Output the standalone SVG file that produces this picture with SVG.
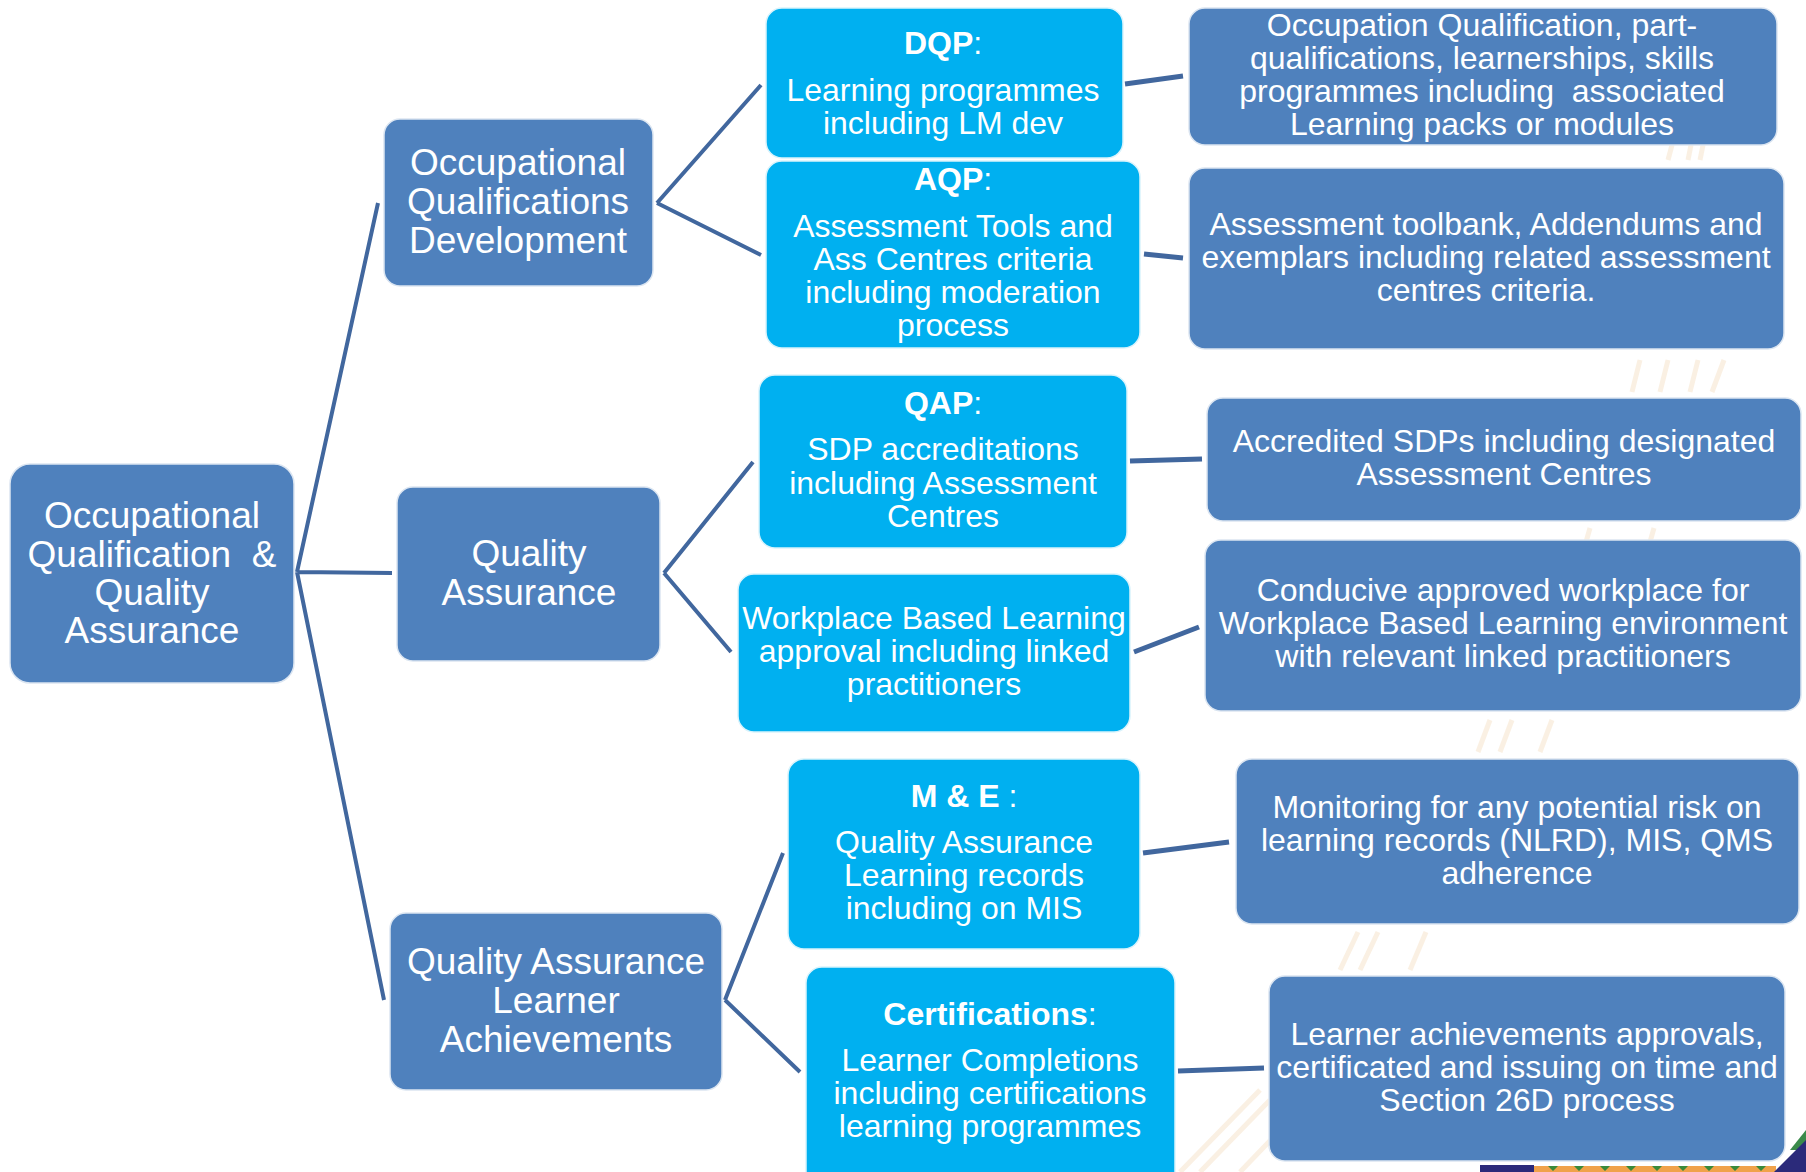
<svg xmlns="http://www.w3.org/2000/svg" width="1806" height="1172" viewBox="0 0 1806 1172">
<defs>
<style>
.bg{fill:#ffffff}
.deco{stroke:#f3d9b8;stroke-width:5;fill:none;opacity:0.4}
.dk{fill:#4F81BD;stroke:#dbe5f1;stroke-width:1.5}
.cy{fill:#00B0F0;stroke:#d9f3fc;stroke-width:1.5}
.conn{stroke:#41679E;fill:none;stroke-linecap:butt}
.c1{stroke-width:4}
.c2{stroke-width:5}
text{font-family:"Liberation Sans",Arial,sans-serif;fill:#ffffff;text-anchor:middle;white-space:pre}
.t37{font-size:37px}
.t32{font-size:32px}
.b{font-weight:bold}
</style>
</defs>
<rect class="bg" x="0" y="0" width="1806" height="1172"/>
<g id="background">
<path class="deco" d="M1668 160 L1676 130 M1688 160 L1694 130 M1700 160 L1706 130"/>
<path class="deco" d="M1632 392 L1640 360 M1660 392 L1668 360 M1690 392 L1698 360 M1712 392 L1724 360"/>
<path class="deco" d="M1586 542 L1590 528 M1650 542 L1654 528"/>
<path class="deco" d="M1478 752 L1490 720 M1500 752 L1512 720 M1540 752 L1552 720"/>
<path class="deco" d="M1340 970 L1358 932 M1360 970 L1378 932 M1410 970 L1426 932"/>
<path class="deco" d="M1180 1172 L1260 1090 M1200 1172 L1270 1100 M1240 1172 L1290 1120"/>
<rect x="1480" y="1165" width="54" height="7" fill="#2b2a7a"/>
<rect x="1534" y="1166" width="242" height="6" fill="#f0a24a"/>
<path d="M1548 1166 l5 5 l5 -5 z M1574 1166 l5 5 l5 -5 z M1600 1166 l5 5 l5 -5 z M1626 1166 l5 5 l5 -5 z M1652 1166 l5 5 l5 -5 z M1678 1166 l5 5 l5 -5 z M1704 1166 l5 5 l5 -5 z M1730 1166 l5 5 l5 -5 z M1756 1166 l5 5 l5 -5 z" fill="#3a8a3a"/>
<polygon points="1790,1150 1806,1130 1806,1150" fill="#3a8a4a"/>
<polygon points="1774,1172 1806,1140 1806,1172" fill="#2b2a7a"/>
</g>
<g id="connectors">
<path class="conn c1" d="M297 572 L378 203 M297 572 L392 573 M297 572 L384 1000"/>
<path class="conn c1" d="M657 203 L761 85 M657 203 L761 255"/>
<path class="conn c1" d="M664 573 L753 462 M664 573 L731 652"/>
<path class="conn c1" d="M725 1000 L783 853 M725 1000 L800 1072"/>
<path class="conn c2" d="M1125 84 L1183 76"/>
<path class="conn c2" d="M1144 254 L1183 258"/>
<path class="conn c2" d="M1130 461 L1202 459"/>
<path class="conn c2" d="M1134 652 L1199 627"/>
<path class="conn c2" d="M1143 853 L1229 842"/>
<path class="conn c2" d="M1178 1071 L1264 1068"/>
</g>
<g id="root">
<rect class="dk" x="10" y="464" width="284" height="219" rx="20"/>
<text class="t37" x="152" y="528">Occupational</text>
<text class="t37" x="152" y="567">Qualification  &amp;</text>
<text class="t37" x="152" y="605">Quality</text>
<text class="t37" x="152" y="643">Assurance</text>
</g>
<g id="oqd">
<rect class="dk" x="384" y="119" width="269" height="167" rx="16"/>
<text class="t37" x="518" y="175">Occupational</text>
<text class="t37" x="518" y="214">Qualifications</text>
<text class="t37" x="518" y="253">Development</text>
</g>
<g id="qa">
<rect class="dk" x="397" y="487" width="263" height="174" rx="16"/>
<text class="t37" x="529" y="566">Quality</text>
<text class="t37" x="529" y="605">Assurance</text>
</g>
<g id="qal">
<rect class="dk" x="390" y="913" width="332" height="177" rx="16"/>
<text class="t37" x="556" y="974">Quality Assurance</text>
<text class="t37" x="556" y="1013">Learner</text>
<text class="t37" x="556" y="1052">Achievements</text>
</g>
<g id="dqp">
<rect class="cy" x="766" y="8" width="357" height="150" rx="16"/>
<text class="t32" x="943" y="54"><tspan class="b">DQP</tspan>:</text>
<text class="t32" x="943" y="101">Learning programmes</text>
<text class="t32" x="943" y="134">including LM dev</text>
</g>
<g id="aqp">
<rect class="cy" x="766" y="161" width="374" height="187" rx="16"/>
<text class="t32" x="953" y="190"><tspan class="b">AQP</tspan>:</text>
<text class="t32" x="953" y="237">Assessment Tools and</text>
<text class="t32" x="953" y="270">Ass Centres criteria</text>
<text class="t32" x="953" y="303">including moderation</text>
<text class="t32" x="953" y="336">process</text>
</g>
<g id="qap">
<rect class="cy" x="759" y="375" width="368" height="173" rx="16"/>
<text class="t32" x="943" y="414"><tspan class="b">QAP</tspan>:</text>
<text class="t32" x="943" y="460">SDP accreditations</text>
<text class="t32" x="943" y="494">including Assessment</text>
<text class="t32" x="943" y="527">Centres</text>
</g>
<g id="wbl">
<rect class="cy" x="738" y="574" width="392" height="158" rx="16"/>
<text class="t32" x="934" y="629">Workplace Based Learning</text>
<text class="t32" x="934" y="662">approval including linked</text>
<text class="t32" x="934" y="695">practitioners</text>
</g>
<g id="me">
<rect class="cy" x="788" y="759" width="352" height="190" rx="16"/>
<text class="t32" x="964" y="807"><tspan class="b">M &amp; E</tspan> :</text>
<text class="t32" x="964" y="853">Quality Assurance</text>
<text class="t32" x="964" y="886">Learning records</text>
<text class="t32" x="964" y="919">including on MIS</text>
</g>
<g id="cert">
<rect class="cy" x="806" y="967" width="369" height="225" rx="16"/>
<text class="t32" x="990" y="1025"><tspan class="b">Certifications</tspan>:</text>
<text class="t32" x="990" y="1071">Learner Completions</text>
<text class="t32" x="990" y="1104">including certifications</text>
<text class="t32" x="990" y="1137">learning programmes</text>
</g>
<g id="out-dqp">
<rect class="dk" x="1189" y="8" width="588" height="137" rx="16"/>
<text class="t32" x="1482" y="36">Occupation Qualification, part-</text>
<text class="t32" x="1482" y="69">qualifications, learnerships, skills</text>
<text class="t32" x="1482" y="102">programmes including  associated</text>
<text class="t32" x="1482" y="135">Learning packs or modules</text>
</g>
<g id="out-aqp">
<rect class="dk" x="1189" y="168" width="595" height="181" rx="16"/>
<text class="t32" x="1486" y="235">Assessment toolbank, Addendums and</text>
<text class="t32" x="1486" y="268">exemplars including related assessment</text>
<text class="t32" x="1486" y="301">centres criteria.</text>
</g>
<g id="out-qap">
<rect class="dk" x="1207" y="398" width="594" height="123" rx="16"/>
<text class="t32" x="1504" y="452">Accredited SDPs including designated</text>
<text class="t32" x="1504" y="485">Assessment Centres</text>
</g>
<g id="out-wbl">
<rect class="dk" x="1205" y="540" width="596" height="171" rx="16"/>
<text class="t32" x="1503" y="601">Conducive approved workplace for</text>
<text class="t32" x="1503" y="634">Workplace Based Learning environment</text>
<text class="t32" x="1503" y="667">with relevant linked practitioners</text>
</g>
<g id="out-me">
<rect class="dk" x="1236" y="759" width="563" height="165" rx="16"/>
<text class="t32" x="1517" y="818">Monitoring for any potential risk on</text>
<text class="t32" x="1517" y="851">learning records (NLRD), MIS, QMS</text>
<text class="t32" x="1517" y="884">adherence</text>
</g>
<g id="out-cert">
<rect class="dk" x="1269" y="976" width="516" height="185" rx="16"/>
<text class="t32" x="1527" y="1045">Learner achievements approvals,</text>
<text class="t32" x="1527" y="1078">certificated and issuing on time and</text>
<text class="t32" x="1527" y="1111">Section 26D process</text>
</g>
</svg>
